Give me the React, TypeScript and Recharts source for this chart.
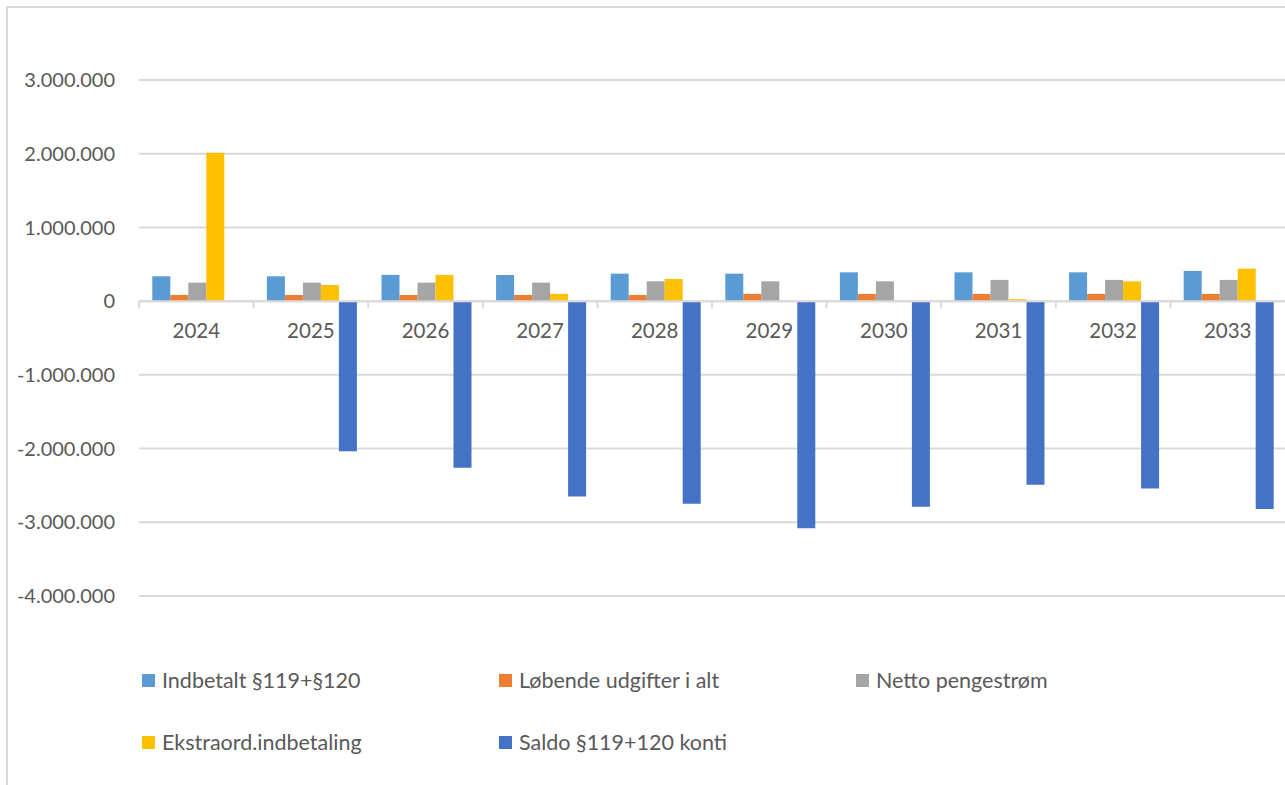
import React from 'react'
import {
  Bar,
  BarChart,
  CartesianGrid,
  Legend,
  ReferenceLine,
  XAxis,
  YAxis
} from 'recharts'

const years = ['2024', '2025', '2026', '2027', '2028', '2029', '2030', '2031', '2032', '2033']
const indbetalt = [337000, 337000, 356000, 356000, 373000, 373000, 391000, 391000, 391000, 410000]
const loebende = [84000, 84000, 84000, 84000, 84000, 98000, 98000, 98000, 98000, 98000]
const netto = [251000, 251000, 251000, 251000, 269000, 269000, 269000, 288000, 288000, 288000]
const ekstraord = [2012000, 220000, 356000, 98000, 301000, 0, 0, 24000, 269000, 441000]
const saldo = [0, -2036000, -2260000, -2650000, -2750000, -3080000, -2790000, -2490000, -2540000, -2820000]

const seriesKeys = ['indbetalt', 'loebende', 'netto', 'ekstraord', 'saldo']
const seriesNames = [
  'Indbetalt §119+§120',
  'Løbende udgifter i alt',
  'Netto pengestrøm',
  'Ekstraord.indbetaling',
  'Saldo §119+120 konti'
]
const seriesColors = ['#5B9BD5', '#ED7D31', '#A5A5A5', '#FFC000', '#4472C4']
const yTicks = [-4000000, -3000000, -2000000, -1000000, 0, 1000000, 2000000, 3000000]

const data = years.map((year, i) => ({
  year,
  indbetalt: indbetalt[i],
  loebende: loebende[i],
  netto: netto[i],
  ekstraord: ekstraord[i],
  saldo: saldo[i]
}))

// chart geometry
const WIDTH = 1285
const HEIGHT = 785
const Y_AXIS_W = 139
const PLOT_TOP = 80
const PLOT_H = 516
const X_AXIS_H = 30
const Y_MIN = -4000000
const Y_MAX = 3000000
const BAND = (WIDTH - Y_AXIS_W) / years.length
const PLOT_BOTTOM = PLOT_TOP + PLOT_H
const ZERO_Y = PLOT_TOP + (PLOT_H * Y_MAX) / (Y_MAX - Y_MIN)

const TEXT = '#595959'
const GRID = '#D9D9D9'
const FONT = 'Lato, "Liberation Sans", Arial, sans-serif'
const FONT_SIZE = 21.5
const Y_FONT_SIZE = 20

const formatNumber = (v: number) => {
  const s = String(Math.abs(v)).replace(/\B(?=(\d{3})+(?!\d))/g, '.')
  return v < 0 ? `-${s}` : s
}

// year labels sit under the zero line, not at the bottom of the plot
const YearTick = (props: any) => {
  const { x, y, payload } = props
  const base = y + (ZERO_Y - PLOT_BOTTOM)
  const left = x - BAND / 2
  return (
    <g>
      <line x1={left} x2={left} y1={base} y2={base + 7} stroke={GRID} strokeWidth={2} />
      <text
        x={x}
        y={base + 30}
        dy="0.355em"
        textAnchor="middle"
        fill={TEXT}
        fontSize={Y_FONT_SIZE + 0.5}
        fontFamily={FONT}
      >
        {payload.value}
      </text>
    </g>
  )
}

const LegendContent = () => (
  <div
    style={{
      display: 'grid',
      gridTemplateColumns: '357px 357px 357px',
      rowGap: 40,
      fontFamily: FONT,
      fontSize: FONT_SIZE,
      color: TEXT
    }}
  >
    {seriesNames.map((name, i) => (
      <div key={name} style={{ display: 'flex', alignItems: 'center', height: 22 }}>
        <span
          style={{
            display: 'inline-block',
            width: 13,
            height: 13,
            background: seriesColors[i],
            marginRight: 7
          }}
        />
        <span style={{ whiteSpace: 'nowrap' }}>{name}</span>
      </div>
    ))}
  </div>
)

const App: React.FC = () => {
  return (
    <div
      style={{
        position: 'absolute',
        left: 0,
        top: 0,
        width: WIDTH,
        height: HEIGHT,
        overflow: 'hidden',
        background: '#fff'
      }}
    >
      <div
        style={{
          position: 'absolute',
          left: 6,
          top: 6,
          width: WIDTH + 40,
          height: HEIGHT + 40,
          border: `2px solid ${GRID}`
        }}
      />
      <div style={{ position: 'absolute', left: 0, top: 0 }}>
        <BarChart
          width={WIDTH}
          height={HEIGHT}
          data={data}
          margin={{ top: PLOT_TOP, right: 0, left: 0, bottom: HEIGHT - PLOT_BOTTOM - X_AXIS_H }}
          barCategoryGap="11.6%"
          barGap={0}
        >
          <CartesianGrid vertical={false} stroke={GRID} strokeWidth={2} />
          <XAxis
            dataKey="year"
            height={X_AXIS_H}
            axisLine={false}
            tickLine={false}
            tickSize={0}
            tickMargin={0}
            interval={0}
            tick={<YearTick />}
          />
          <YAxis
            width={Y_AXIS_W}
            domain={[Y_MIN, Y_MAX]}
            ticks={yTicks}
            interval={0}
            axisLine={false}
            tickLine={false}
            tickSize={0}
            tickMargin={24}
            tickFormatter={formatNumber}
            tick={{ fill: TEXT, fontSize: Y_FONT_SIZE, fontFamily: FONT }}
          />
          {seriesKeys.map((key, i) => (
            <Bar
              key={key}
              dataKey={key}
              name={seriesNames[i]}
              fill={seriesColors[i]}
              isAnimationActive={false}
            />
          ))}
          <ReferenceLine y={0} stroke={GRID} strokeWidth={2} />
          <Legend
            layout="horizontal"
            verticalAlign="middle"
            align="center"
            content={<LegendContent />}
            wrapperStyle={{ left: 142, top: 669, width: 1100, height: 90 }}
          />
        </BarChart>
      </div>
    </div>
  )
}

export default App
